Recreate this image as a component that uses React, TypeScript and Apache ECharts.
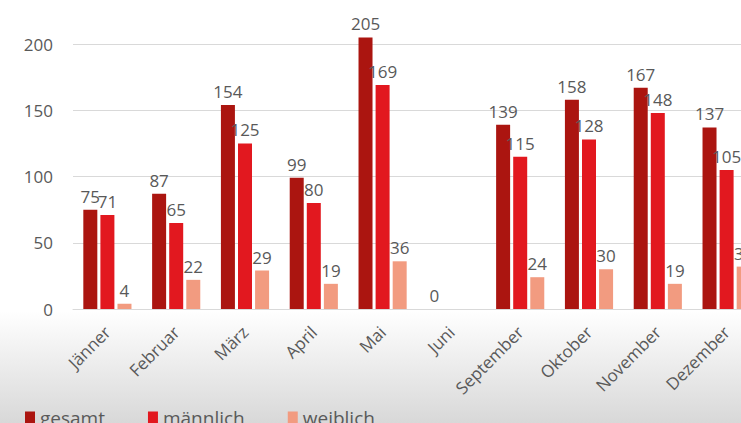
import React, { useEffect, useRef } from "react";
import * as echarts from "echarts";

const categories = ["Jänner", "Februar", "März", "April", "Mai", "Juni", "September", "Oktober", "November", "Dezember"];
const gesamt = [75, 87, 154, 99, 205, 0, 139, 158, 167, 137];
const maennlich = [71, 65, 125, 80, 169, null, 115, 128, 148, 105];
const weiblich = [4, 22, 29, 19, 36, null, 24, 30, 19, 32];
const yTicks = [0, 50, 100, 150, 200];

const FONT = "'Open Sans', 'DejaVu Sans', sans-serif";
const TXT = "#595959";

export default function App() {
  const ref = useRef<HTMLDivElement>(null);
  useEffect(() => {
    if (!ref.current) return;
    document.body.style.margin = "0";
    const chart = echarts.init(ref.current, null, { renderer: "svg" });
    const label = {
      show: true,
      position: "top" as const,
      distance: 5,
      color: TXT,
      fontSize: 17,
      fontFamily: FONT,
    };
    const mk = (name: string, data: (number | null)[], color: string) => ({
      name,
      type: "bar" as const,
      data,
      clip: false,
      barGap: "22%",
      barCategoryGap: "30%",
      itemStyle: { color },
      label,
      labelLayout: { moveOverlap: "shiftY" as const },
    });
    chart.setOption({
      animation: false,
      backgroundColor: "#ffffff",
      graphic: [
        {
          type: "rect",
          z: -10,
          silent: true,
          shape: { x: 0, y: 311, width: 741, height: 112 },
          style: {
            fill: new echarts.graphic.LinearGradient(0, 0, 0, 1, [
              { offset: 0, color: "#ffffff" },
              { offset: 1, color: "#d8d8d8" },
            ]),
          },
        },
      ],
      grid: { left: 73, width: 688, top: 44, height: 265, containLabel: false, outerBoundsMode: "none" },
      legend: {
        left: 20,
        top: 403,
        itemWidth: 10,
        itemHeight: 12,
        itemGap: 43,
        icon: "rect",
        textStyle: { color: TXT, fontSize: 19, fontFamily: FONT },
        data: ["gesamt", "männlich", "weiblich"],
      },
      xAxis: {
        type: "category",
        data: categories,
        axisLine: { lineStyle: { color: "#d9d9d9" } },
        axisTick: { show: false },
        axisLabel: { rotate: 45, color: TXT, fontSize: 17, fontFamily: FONT, margin: 20, interval: 0 },
      },
      yAxis: {
        type: "value",
        min: yTicks[0],
        max: yTicks[yTicks.length - 1],
        interval: 50,
        axisLine: { show: false },
        axisTick: { show: false },
        splitLine: { lineStyle: { color: "#d9d9d9" } },
        axisLabel: { color: TXT, fontSize: 17, fontFamily: FONT, margin: 20 },
      },
      series: [
        mk("gesamt", gesamt, "#ab1510"),
        mk("männlich", maennlich, "#e2181f"),
        mk("weiblich", weiblich, "#f29b80"),
      ],
    });
    return () => chart.dispose();
  }, []);
  return <div ref={ref} style={{ width: 741, height: 423 }} />;
}
